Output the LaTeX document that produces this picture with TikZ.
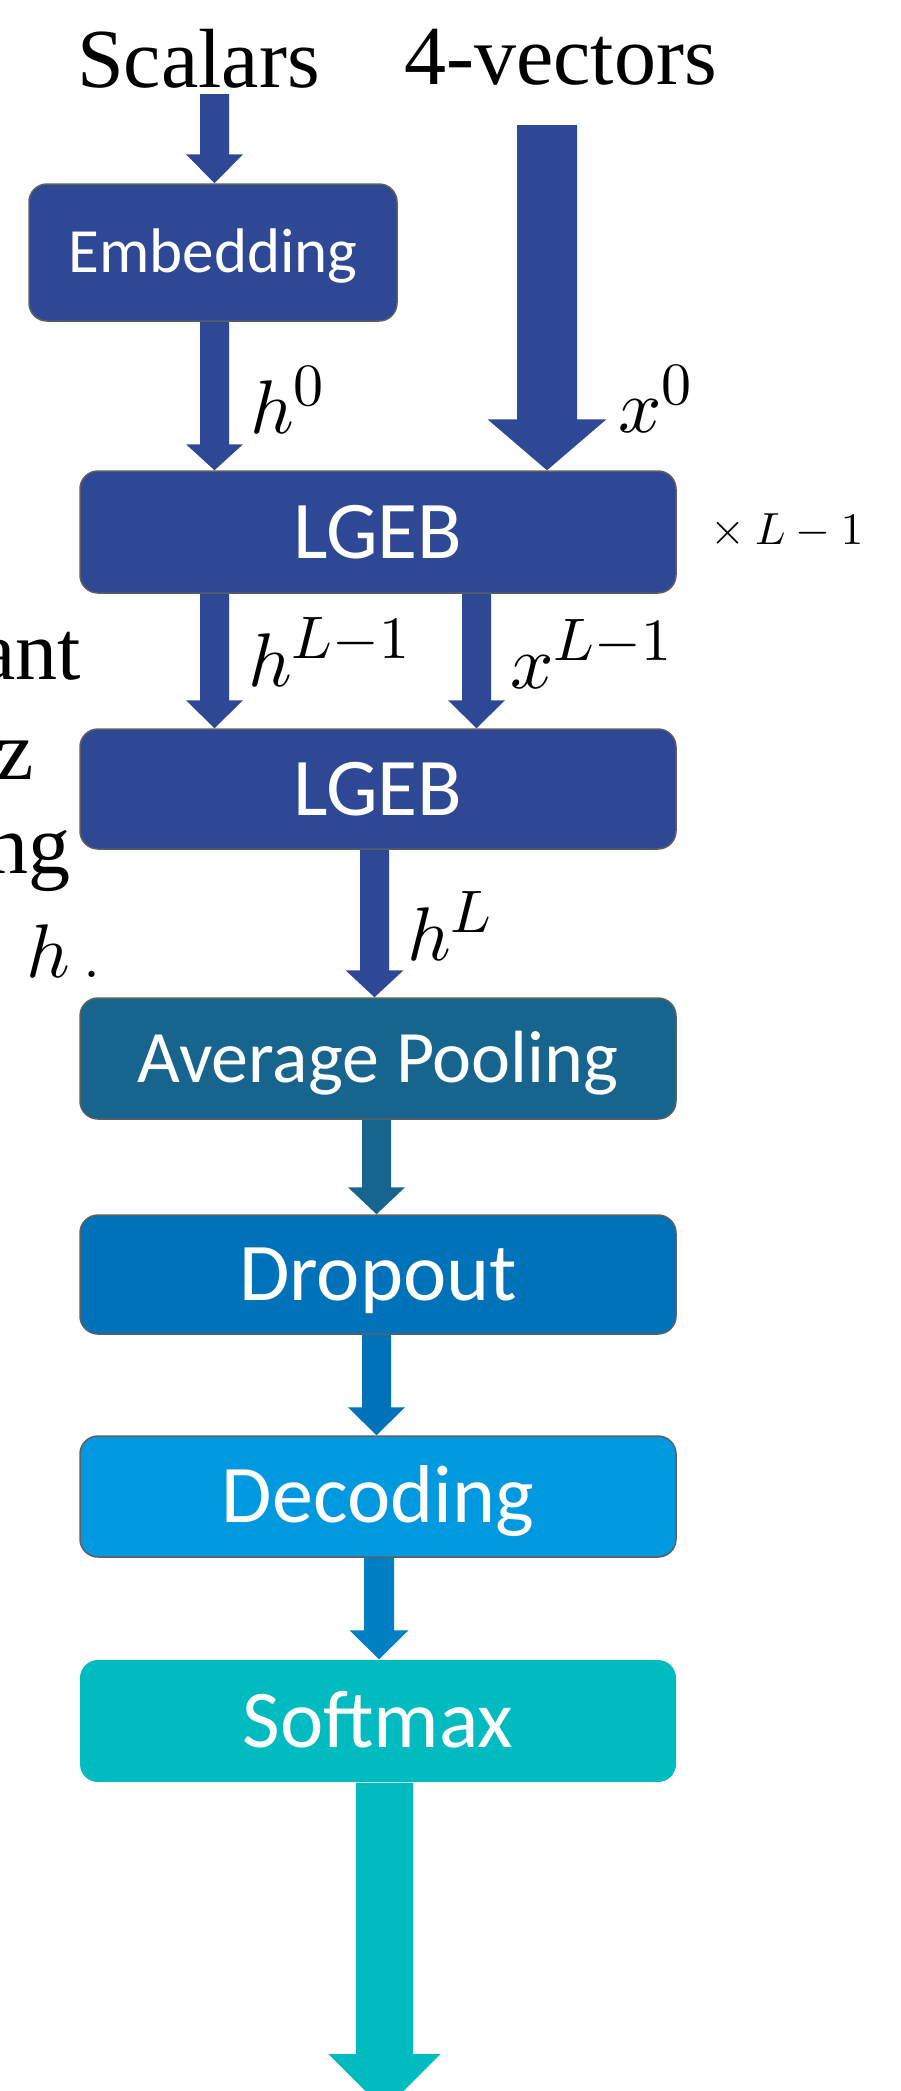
\documentclass[tikz,border=0pt]{standalone}
\usepackage{fontspec}
\DeclareFontShape{OML}{cmm}{m}{it}{<->cmmi10}{}
\DeclareFontShape{OMS}{cmsy}{m}{n}{<->cmsy10}{}
\DeclareFontShape{OT1}{cmr}{m}{n}{<->cmr10}{}
\DeclareMathSizes{76}{76}{60}{46}
\DeclareMathSizes{45}{45}{34}{26}
\newfontfamily\tnr{Liberation Serif}
\newfontfamily\calib{Carlito}
\usetikzlibrary{calc}
\definecolor{dkblue}{RGB}{46,72,150}
\definecolor{poolc}{RGB}{23,101,142}
\definecolor{dropc}{RGB}{0,114,185}
\definecolor{decc}{RGB}{0,153,224}
\definecolor{softc}{RGB}{0,188,193}
\definecolor{decarr}{RGB}{0,128,196}
\definecolor{edgegray}{RGB}{95,95,95}
% vertical block arrow: style, from, to, half shaft, half head, head length
\newcommand{\varr}[6]{%
  \fill[#1] let \p1=(#2), \p2=(#3) in
  (\x1-#4,\y1) -- (\x1+#4,\y1) -- (\x1+#4,\y2+#6) -- (\x1+#5,\y2+#6) --
  (\x1,\y2) -- (\x1-#5,\y2+#6) -- (\x1-#4,\y2+#6) -- cycle;}
\tikzset{
  box/.style={draw=edgegray, line width=1.5pt, rounded corners=18pt, text=white,
    inner sep=0pt, minimum width=596pt, text depth=0pt},
  bigtxt/.style={font=\calib\fontsize{82}{90}\selectfont, text height=52.8pt},
  lbl/.style={anchor=base west, inner sep=0pt, font=\fontsize{76}{80}\selectfont},
  titletxt/.style={anchor=base west, inner sep=0pt, font=\tnr\fontsize{84}{90}\selectfont},
  fragtxt/.style={anchor=base east, inner sep=0pt, font=\tnr\fontsize{84}{90}\selectfont},
}
\begin{document}
\begin{tikzpicture}[x=1pt,y=-1pt]
\useasboundingbox (0,0) rectangle (901,2091);
\clip (0,0) rectangle (901,2091);

% titles
\node[titletxt] (scal) at (77,87) {Scalars};
\node[titletxt] (fvec) at (404,84) {4-vectors};

% boxes
\node[box, fill=dkblue, minimum width=368pt, minimum height=137pt,
      font=\calib\fontsize{63}{70}\selectfont, text height=40.6pt] (emb) at (213,252.5) {Embedding};
\node[box, fill=dkblue, minimum height=122pt, bigtxt] (lgeb1) at (378,532) {LGEB};
\node[box, fill=dkblue, minimum height=120pt, bigtxt] (lgeb2) at (378,789) {LGEB};
\node[box, fill=poolc, minimum height=121pt,
      font=\calib\fontsize{74}{80}\selectfont, text height=47.7pt] (pool) at (378,1058.5) {Average Pooling};
\node[box, fill=dropc, minimum height=119pt, bigtxt] (drop) at (378,1274.5) {Dropout};
\node[box, fill=decc, minimum height=121pt, bigtxt] (dec) at (378,1496.5) {Decoding};
\node[box, draw=none, fill=softc, minimum height=122pt, bigtxt] (soft) at (378,1721) {Softmax};

% arrow anchor coordinates
\coordinate (sc) at (214.5,94);
\coordinate (fv) at (547,125);
\coordinate (xl) at (476.5,600);
\coordinate (hl) at (374.5,900);
\coordinate (pd) at (376.5,1200);
\coordinate (ds) at (379,1600);
\coordinate (out) at (384.5,2110);

% arrows
\varr{dkblue}{sc}{sc |- emb.north}{14.5pt}{28.5pt}{29pt}
\varr{dkblue}{sc |- emb.south}{sc |- lgeb1.north}{14.5pt}{28.5pt}{26pt}
\varr{dkblue}{fv}{fv |- lgeb1.north}{30pt}{59.5pt}{51pt}
\varr{dkblue}{sc |- lgeb1.south}{sc |- lgeb2.north}{14.5pt}{28.5pt}{28pt}
\varr{dkblue}{xl |- lgeb1.south}{xl |- lgeb2.north}{14.5pt}{28.5pt}{28pt}
\varr{dkblue}{hl |- lgeb2.south}{hl |- pool.north}{14.5pt}{29pt}{27pt}
\varr{poolc}{pd |- pool.south}{pd |- drop.north}{14.5pt}{28.5pt}{27pt}
\varr{dropc}{pd |- drop.south}{pd |- dec.north}{14.5pt}{28.5pt}{28pt}
\varr{decarr}{ds |- dec.south}{ds |- soft.north}{15pt}{29.5pt}{29pt}
\varr{softc}{out |- soft.south}{out}{28.5pt}{56pt}{56pt}

% labels
\node[lbl] (h0) at (250,433) {$h^0$};
\node[lbl] (x0) at (618,432) {$x^0$};
\node[lbl] (hL1) at (248,686) {$h^{L-1}$};
\node[lbl] (xL1) at (510,688) {$x^{L-1}$};
\node[lbl] (hL) at (407,960) {$h^L$};
\node[anchor=base west, inner sep=0pt, font=\fontsize{45}{50}\selectfont] (rep) at (710,544) {$\times\:L-1$};

% cut-off text at the left edge
\node[fragtxt] (f1) at (81,679) {ant};
\node[fragtxt] (f2) at (34,779) {z};
\node[fragtxt] (f3) at (71,873) {ng};
\node[anchor=base west, inner sep=0pt, font=\fontsize{76}{80}\selectfont] (f4) at (26,977) {$h$\,.};
\end{tikzpicture}
\end{document}
